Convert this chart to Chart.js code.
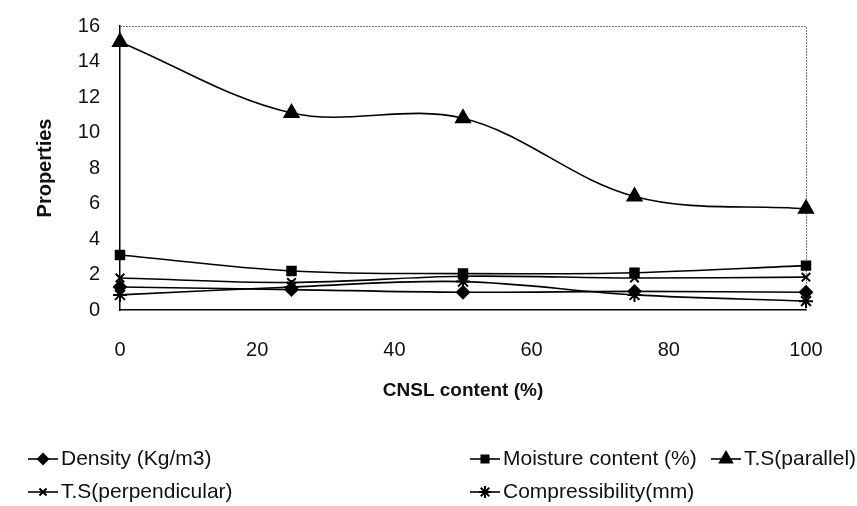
<!DOCTYPE html>
<html>
<head>
<meta charset="utf-8">
<script src="https://cdn.jsdelivr.net/npm/chart.js@4.4.1/dist/chart.umd.min.js"></script>
<style>
  html, body { margin: 0; padding: 0; background: #fff; }
  #wrap { width: 857px; height: 506px; }
</style>
</head>
<body>
<div id="wrap"><canvas id="chart" width="857" height="506"></canvas></div>
<script>
const cnsl = [0, 25, 50, 75, 100];
const density = [1.3, 1.15, 1.0, 1.05, 1.0];
const moisture = [3.1, 2.2, 2.05, 2.1, 2.5];
const tsParallel = [15.1, 11.1, 10.8, 6.4, 5.7];
const tsPerp = [1.8, 1.55, 1.9, 1.8, 1.85];
const compress = [0.85, 1.3, 1.6, 0.85, 0.5];
const seriesNames = ['Density (Kg/m3)', 'Moisture content (%)', 'T.S(parallel)', 'T.S(perpendicular)', 'Compressibility(mm)'];
const xTicks = [0, 20, 40, 60, 80, 100];
const yTicks = [0, 2, 4, 6, 8, 10, 12, 14, 16];

const FONT = "'Liberation Sans', Arial, sans-serif";
Chart.defaults.font.family = FONT;
Chart.defaults.color = '#111';

const pts = vals => vals.map((v, i) => ({ x: cnsl[i], y: v }));
const styles = [
  { pointStyle: 'rectRot', radius: 6 },
  { pointStyle: 'rect', radius: 6 },
  { pointStyle: 'triangle', radius: 8 },
  { pointStyle: 'crossRot', radius: 6 },
  { pointStyle: 'star', radius: 7 }
];
const allVals = [density, moisture, tsParallel, tsPerp, compress];

const datasets = allVals.map((vals, i) => ({
  label: seriesNames[i],
  data: pts(vals),
  borderColor: '#000',
  backgroundColor: '#000',
  borderWidth: 1.6,
  pointStyle: styles[i].pointStyle,
  pointRadius: styles[i].radius,
  pointBorderWidth: 2,
  pointBackgroundColor: '#000',
  pointBorderColor: '#000',
  tension: 0.35,
  clip: false,
  fill: false
}));

// plot frame: light dotted top/right like the scanned Excel box
const frame = {
  id: 'frame',
  beforeDatasetsDraw(chart) {
    const { ctx, chartArea: a } = chart;
    ctx.save();
    ctx.strokeStyle = '#777';
    ctx.lineWidth = 1;
    ctx.setLineDash([2, 1]);
    ctx.beginPath();
    ctx.moveTo(a.left, a.top + 0.5);
    ctx.lineTo(a.right + 0.5, a.top + 0.5);
    ctx.lineTo(a.right + 0.5, a.bottom);
    ctx.stroke();
    ctx.restore();
  }
};

// legend in two rows, Excel style
const legendPos = [
  { x: 28, y: 459 }, { x: 470, y: 459 }, { x: 711, y: 459 },
  { x: 28, y: 492 }, { x: 470, y: 492 }
];
const legend = {
  id: 'xlLegend',
  afterDraw(chart) {
    const { ctx } = chart;
    ctx.save();
    chart.data.datasets.forEach((ds, i) => {
      const p = legendPos[i];
      ctx.strokeStyle = '#000';
      ctx.lineWidth = 1.6;
      ctx.beginPath();
      ctx.moveTo(p.x, p.y);
      ctx.lineTo(p.x + 30, p.y);
      ctx.stroke();
      ctx.fillStyle = '#000';
      ctx.lineWidth = 2;
      Chart.helpers.drawPoint(ctx, { pointStyle: ds.pointStyle, radius: ds.pointRadius - 1, borderWidth: 2 }, p.x + 15, p.y);
      ctx.fillStyle = '#111';
      ctx.font = '21px ' + FONT;
      ctx.textBaseline = 'middle';
      ctx.fillText(ds.label, p.x + 33, p.y);
    });
    ctx.restore();
  }
};

new Chart(document.getElementById('chart'), {
  type: 'line',
  data: { datasets },
  plugins: [frame, legend],
  options: {
    responsive: false,
    animation: false,
    layout: { autoPadding: false, padding: { left: 0, right: 51, top: 26, bottom: 96 } },
    plugins: { legend: { display: false }, tooltip: { enabled: false } },
    scales: {
      x: {
        type: 'linear', min: 0, max: 100,
        afterBuildTicks: s => { s.ticks = xTicks.map(v => ({ value: v })); },
        afterFit: s => { s.height = 100; },
        grid: { display: false, drawTicks: false },
        border: { display: true, color: '#000', width: 1.5 },
        ticks: { padding: 28, font: { size: 20 } },
        title: { display: true, text: 'CNSL content (%)', font: { size: 19, weight: 'bold' }, padding: { top: 0, bottom: 8 } }
      },
      y: {
        min: 0, max: 16,
        afterBuildTicks: s => { s.ticks = yTicks.map(v => ({ value: v })); },
        afterFit: s => { s.width = 120; s.paddingTop = 0; s.paddingBottom = 0; },
        grid: { display: false, drawTicks: false },
        border: { display: true, color: '#000', width: 1.5 },
        ticks: { padding: 20, font: { size: 20 } },
        title: { display: true, text: 'Properties', font: { size: 20, weight: 'bold' }, padding: { top: 33, bottom: 0 } }
      }
    }
  }
});
</script>
</body>
</html>
